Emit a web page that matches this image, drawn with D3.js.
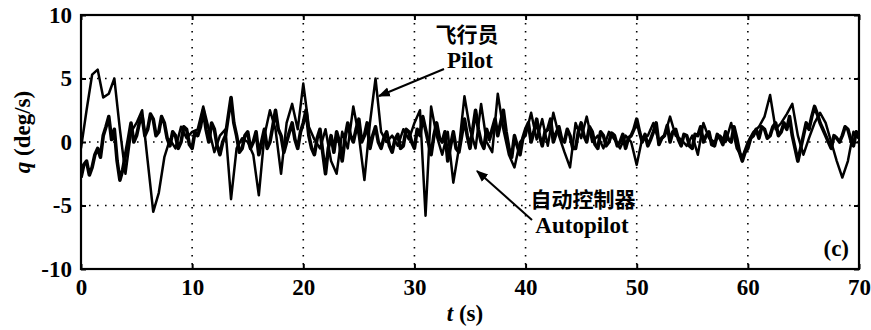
<!DOCTYPE html>
<html>
<head>
<meta charset="utf-8">
<script src="https://cdn.jsdelivr.net/npm/d3@7/dist/d3.min.js"></script>
<style>
  body { margin: 0; background: #fff; }
  svg { display: block; }
  .tick text { font-family: "Liberation Serif", "Times New Roman", serif; font-weight: bold; font-size: 23px; fill: #000; }
  .lbl { font-family: "Liberation Serif", "Times New Roman", serif; font-weight: bold; font-size: 23px; fill: #000; }
  .cjk { font-family: "Noto Sans CJK SC", sans-serif; font-weight: bold; font-size: 21px; fill: #000; }
</style>
</head>
<body>
<div id="chart"></div>
<script>
const pilotStep = 0.5
const autoStep = 0.25
const xTicks = [0, 10, 20, 30, 40, 50, 60, 70]
const yTicks = [-10, -5, 0, 5, 10]

// pitch rate q (deg/s), pilot in the loop, every 0.5 s
const pilot = [
  -0.5, 2.5, 5.3, 5.7, 3.5, 3.8, 5.0, 1.0, -2.5, 0.8,
  1.5, 2.5, -1.5, -5.5, -4.0, -1.2, 0.2, -0.5, 1.2, 0.3,
  0.8, 1.0, 2.8, 1.0, -0.8, 0.5, 1.0, -4.5, -0.5, 0.3,
  0.0, -1.0, -4.2, 0.5, 2.5, 1.0, -2.5, 1.5, 3.0, 1.0,
  4.6, 1.2, 0.2, -0.5, 1.0, -1.5, -2.5, 0.8, -0.5, 2.8,
  0.5, -3.0, 1.5, 5.0, 0.8, 0.0, 0.5, -0.3, 1.0, 0.2,
  1.5, 2.5, -5.8, 2.8, 0.5, -1.0, 0.8, -3.2, -0.5, 3.6,
  1.0, -0.5, 3.0, 0.0, -0.8, 3.8, 1.0, -1.0, -2.0, 0.0,
  0.5, 2.3, 0.2, 1.8, -0.3, 2.3, 0.5, -0.8, -2.0, 1.5,
  0.3, 2.0, 0.0, 0.5, -0.5, 0.8, 0.2, -0.5, 0.5, 0.0,
  -1.8, 0.3, 0.5, 1.5, 0.0, 0.5, 2.0, 0.5, 0.2, -0.3,
  0.5, -1.0, 1.5, 0.3, 0.0, 0.5, 0.0, 1.5, -0.5, -1.2,
  0.0, 0.8, 1.2, 2.0, 3.7, 1.0, 1.5, 2.2, 3.0, 0.5,
  -1.0, 0.3, 1.5, 2.3, 1.5, 0.0, -1.5, -2.8, -1.5, 0.8,
  0.3
]

// pitch rate q (deg/s), autopilot, every 0.25 s
const autopilot = [
  -2.8, -1.8, -1.5, -2.6, -2.0, -1.0, -0.5, -1.2, 0.5, 1.2,
  2.0, 0.2, 1.0, -1.5, -3.0, -2.2, -1.0, 0.2, 1.5, 0.0,
  0.5, 1.5, 2.0, 0.5, 1.0, 2.2, 1.8, 0.5, 0.8, 2.0,
  1.5, 0.3, -0.3, 0.8, 0.5, -0.5, 0.0, 1.2, 1.0, -0.2,
  -0.5, 0.8, 0.5, 1.2, 2.5, 1.0, 0.0, 1.5, 1.0, -0.3,
  -1.0, 0.0, 0.5, 2.0, 3.5, 1.5, 0.5, -0.8, -0.5, 0.5,
  0.8, -0.5, 0.0, 0.8, -1.0, 0.0, 1.0, -0.5, 0.0, 1.2,
  2.5, 1.0, 0.5, -0.8, 0.0, 0.8, 1.5, 0.2, -0.5, 0.8,
  1.5, 2.5, 0.5, -0.5, -1.0, 0.3, 1.0, -0.8, -2.5, -0.5,
  0.5, -0.8, 0.8, 0.0, -1.5, 0.3, 1.5, 0.5, 0.0, 1.0,
  1.8, 0.0, 0.5, 1.5, -0.5, 0.5, 1.2, 0.0, -0.5, 0.3,
  0.8, -0.3, -0.8, 0.2, 0.6, -0.5, -0.3, 1.0, 0.8, 0.0,
  -0.5, 1.0, 0.5, 2.0, 1.0, 0.0, -1.0, 0.5, 1.5, 0.3,
  0.0, 0.8, -1.5, -0.3, 0.8, -0.5, -0.8, 0.5, 1.8, 0.5,
  -0.5, 1.0, 2.5, 1.0, 0.0, -0.5, 1.0, 0.2, 1.0, 1.8,
  0.5, 1.5, 2.5, 0.8, -0.5, -1.2, 0.5, -0.3, -1.0, 0.3,
  1.0, 1.5, 0.0, 0.8, 1.8, 0.5, -0.3, 0.8, 1.0, 1.8,
  0.0, 0.7, 1.2, 0.2, 0.0, 1.0, 0.5, -0.5, -0.5, 0.8,
  1.5, 0.5, 0.0, 1.2, 0.8, -0.2, -0.5, 0.8, 0.5, -0.3,
  0.0, 0.7, 0.5, -0.3, 0.0, 0.6, -0.5, 0.3, 0.5, 1.0,
  1.8, 0.8, 0.0, 0.6, -0.3, 0.2, 0.8, 1.5, -0.2, 0.3,
  0.5, 1.3, 0.0, 0.8, 1.0, 0.2, -0.3, 0.6, 0.5, -0.3,
  -0.5, 0.6, 0.5, 1.2, 0.0, 0.5, 0.8, -0.2, -0.3, 0.6,
  0.3, -0.2, 0.8, 0.2, 0.0, 1.2, 0.3, -0.8, -1.5, -0.8,
  -0.5, 0.3, 0.5, 1.0, 0.3, 1.2, 1.0, 0.3, 0.5, 1.2,
  1.5, 0.5, 0.8, 1.5, 1.0, 2.0, 0.5, -0.5, -1.5, -0.5,
  0.5, 1.5, 1.0, 2.0, 2.8, 2.2, 1.5, 1.0, 0.5, 0.0,
  -0.5, 0.5, 0.3, 0.0, 0.5, 1.2, 1.0, 0.2, -0.3, 0.8,
  0.3
]

const W = 871, H = 330
const margin = {top: 15, right: 12, bottom: 61, left: 81}

const svg = d3.select("#chart").append("svg")
    .attr("width", W)
    .attr("height", H)

const xScale = d3.scaleLinear().domain([0, 70]).range([margin.left, W - margin.right])
const yScale = d3.scaleLinear().domain([-10, 10]).range([H - margin.bottom, margin.top])

// dotted grid
const grid = svg.append("g").attr("class", "grid")
    .attr("stroke", "#000")
    .attr("stroke-width", 1.6)
    .attr("stroke-dasharray", "1.6,6.4")
grid.selectAll("line.gx")
    .data(xTicks.slice(1, -1))
    .enter().append("line")
    .attr("class", "gx")
    .attr("x1", d => xScale(d)).attr("x2", d => xScale(d))
    .attr("y1", yScale(10)).attr("y2", yScale(-10))
grid.selectAll("line.gy")
    .data(yTicks.slice(1, -1))
    .enter().append("line")
    .attr("class", "gy")
    .attr("x1", xScale(0)).attr("x2", xScale(70))
    .attr("y1", d => yScale(d)).attr("y2", d => yScale(d))

// series
svg.append("clipPath").attr("id", "plot-clip")
    .append("rect")
    .attr("x", xScale(0)).attr("y", yScale(10))
    .attr("width", xScale(70) - xScale(0))
    .attr("height", yScale(-10) - yScale(10))

const lineFor = step => d3.line()
    .x((d, i) => xScale(i * step))
    .y(d => yScale(d))

const series = svg.append("g").attr("clip-path", "url(#plot-clip)")
series.append("path")
    .datum(autopilot)
    .attr("fill", "none")
    .attr("stroke", "#000")
    .attr("stroke-width", 3.6)
    .attr("stroke-linejoin", "round")
    .attr("d", lineFor(autoStep))
series.append("path")
    .datum(pilot)
    .attr("fill", "none")
    .attr("stroke", "#000")
    .attr("stroke-width", 2.5)
    .attr("stroke-linejoin", "round")
    .attr("d", lineFor(pilotStep))

// axes (plain hyphen for negatives, as in the original)
const fmt = d => String(d)
const xAxis = d3.axisBottom(xScale).tickValues(xTicks).tickFormat(fmt).tickSizeInner(-5).tickSizeOuter(0).tickPadding(10)
const yAxis = d3.axisLeft(yScale).tickValues(yTicks).tickFormat(fmt).tickSizeInner(-5).tickSizeOuter(0).tickPadding(9)

const gx = svg.append("g")
    .attr("transform", `translate(0,${yScale(-10)})`)
    .call(xAxis)
const gy = svg.append("g")
    .attr("transform", `translate(${xScale(0)},0)`)
    .call(yAxis)
for (const g of [gx, gy]) {
    g.select(".domain").remove()
    g.selectAll(".tick line").attr("stroke", "#000").attr("stroke-width", 2)
}

// ticks on top and right
const gxTop = svg.append("g")
    .attr("transform", `translate(0,${yScale(10)})`)
    .call(d3.axisTop(xScale).tickValues(xTicks).tickSizeInner(-5).tickSizeOuter(0).tickFormat(""))
const gyRight = svg.append("g")
    .attr("transform", `translate(${xScale(70)},0)`)
    .call(d3.axisRight(yScale).tickValues(yTicks).tickSizeInner(-5).tickSizeOuter(0).tickFormat(""))
for (const g of [gxTop, gyRight]) {
    g.select(".domain").remove()
    g.selectAll(".tick line").attr("stroke", "#000").attr("stroke-width", 2)
}

// frame
svg.append("rect")
    .attr("x", xScale(0)).attr("y", yScale(10))
    .attr("width", xScale(70) - xScale(0))
    .attr("height", yScale(-10) - yScale(10))
    .attr("fill", "none")
    .attr("stroke", "#000")
    .attr("stroke-width", 2.2)

// axis titles
const xt = svg.append("text").attr("class", "lbl")
    .attr("x", 465).attr("y", 321)
    .attr("text-anchor", "middle")
xt.append("tspan").attr("font-style", "italic").text("t")
xt.append("tspan").text(" (s)")

const yt = svg.append("text").attr("class", "lbl")
    .attr("transform", `translate(30,${(yScale(10) + yScale(-10)) / 2 - 10}) rotate(-90)`)
    .attr("text-anchor", "middle")
yt.append("tspan").attr("font-style", "italic").text("q")
yt.append("tspan").text(" (deg/s)")

// annotations
const arrowHead = svg.append("defs").append("marker")
    .attr("id", "arrow")
    .attr("viewBox", "0 0 10 10")
    .attr("refX", 9).attr("refY", 5)
    .attr("markerWidth", 6).attr("markerHeight", 6)
    .attr("markerUnits", "strokeWidth")
    .attr("orient", "auto")
arrowHead.append("path").attr("d", "M0,1 L10,5 L0,9 Z").attr("fill", "#000")

svg.append("text").attr("class", "cjk")
    .attr("x", 467).attr("y", 42).attr("text-anchor", "middle")
    .text("飞行员")
svg.append("text").attr("class", "lbl")
    .attr("x", 470).attr("y", 68).attr("text-anchor", "middle")
    .text("Pilot")
svg.append("line")
    .attr("x1", 444).attr("y1", 69).attr("x2", 379).attr("y2", 96)
    .attr("stroke", "#000").attr("stroke-width", 2)
    .attr("marker-end", "url(#arrow)")

svg.append("text").attr("class", "cjk")
    .attr("x", 583).attr("y", 207).attr("text-anchor", "middle")
    .text("自动控制器")
svg.append("text").attr("class", "lbl")
    .attr("x", 582).attr("y", 233).attr("text-anchor", "middle")
    .text("Autopilot")
svg.append("line")
    .attr("x1", 532).attr("y1", 220).attr("x2", 477).attr("y2", 171)
    .attr("stroke", "#000").attr("stroke-width", 2)
    .attr("marker-end", "url(#arrow)")

svg.append("text").attr("class", "lbl")
    .attr("x", 849).attr("y", 256).attr("text-anchor", "end")
    .text("(c)")
</script>
</body>
</html>
